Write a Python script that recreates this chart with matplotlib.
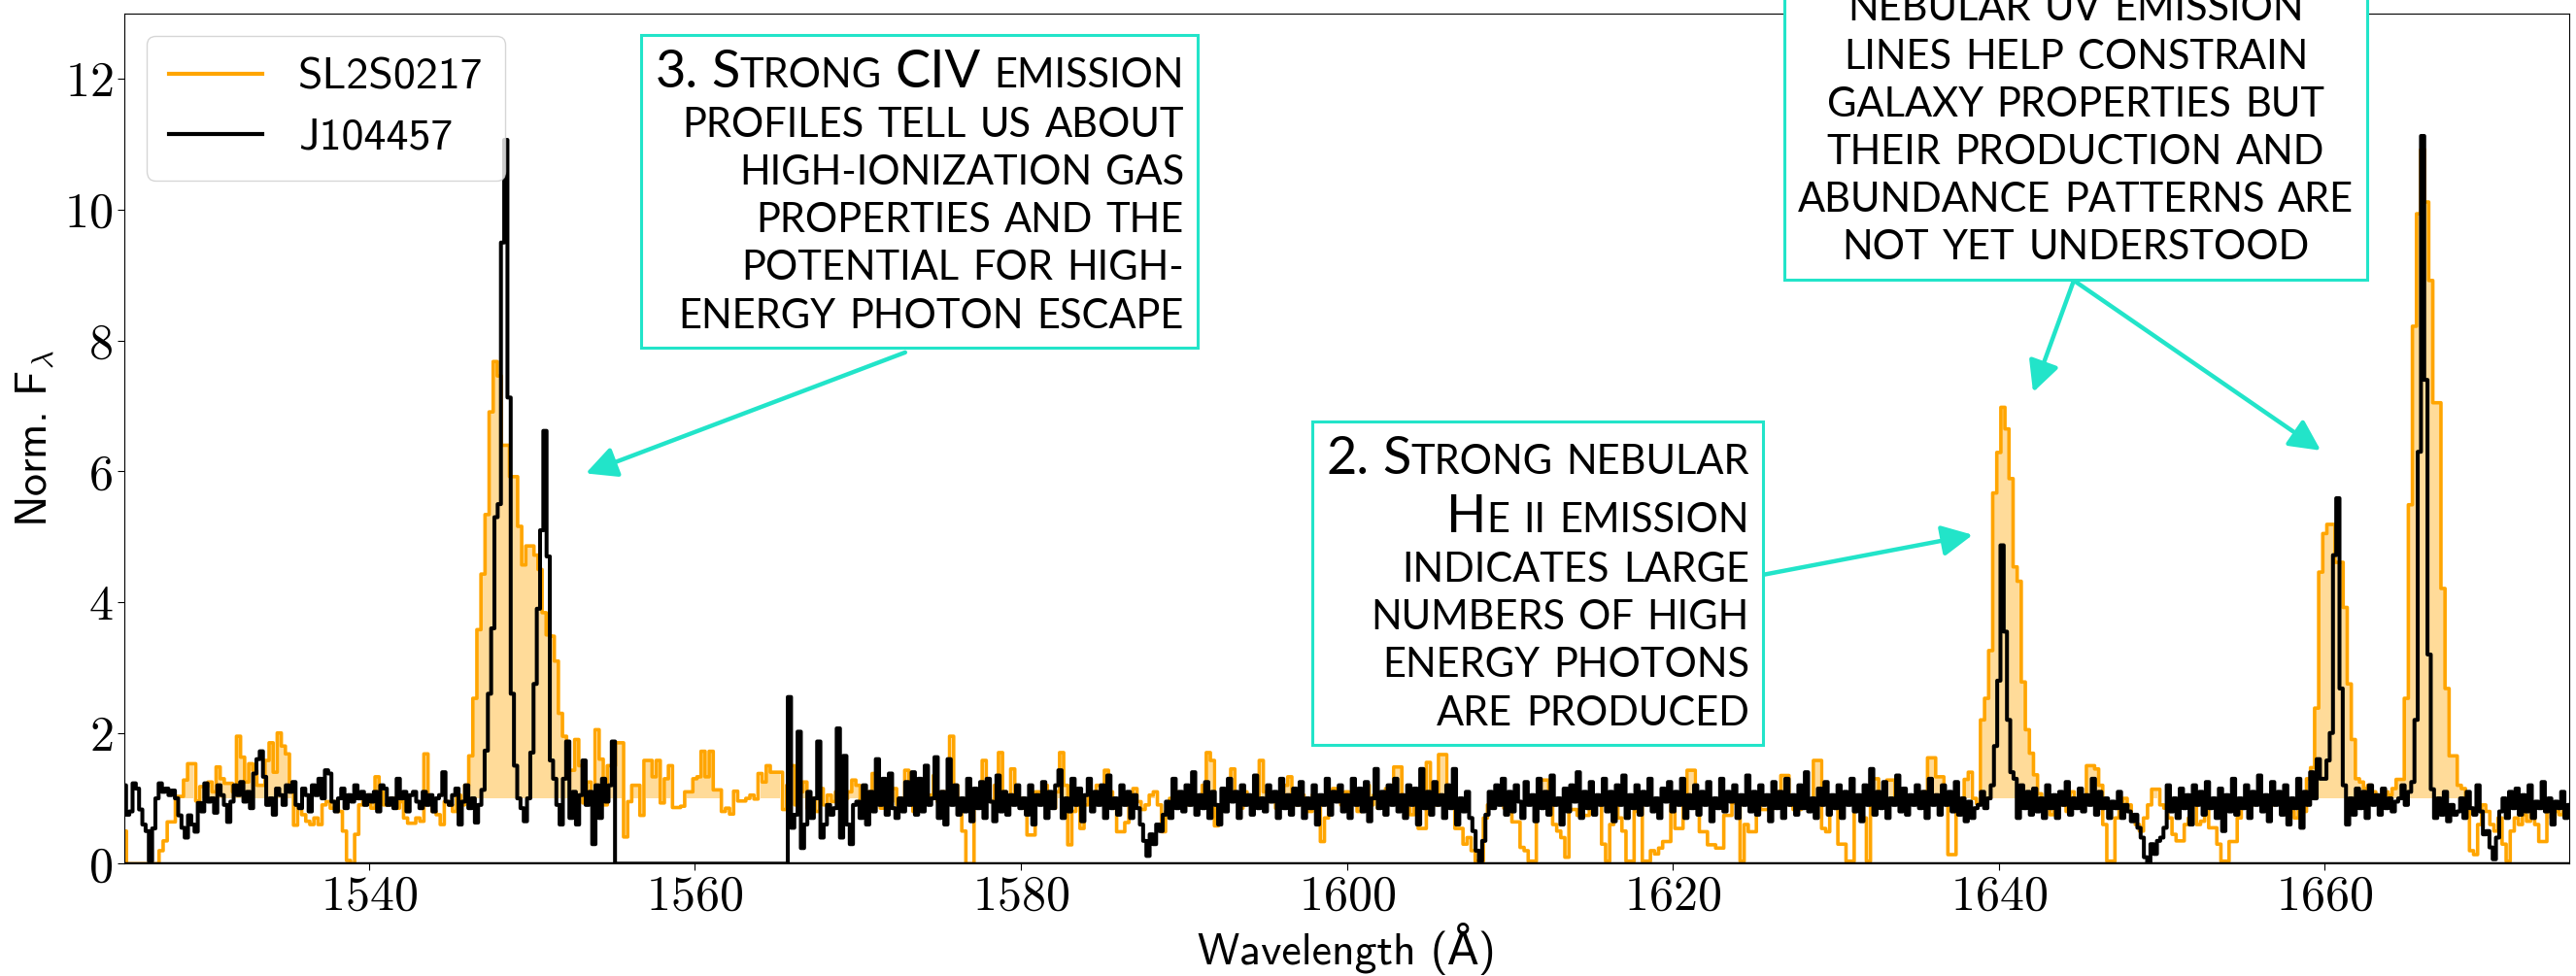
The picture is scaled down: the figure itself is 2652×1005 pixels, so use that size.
import numpy as np
import matplotlib.pyplot as plt
from matplotlib.offsetbox import TextArea, HPacker, VPacker, AnnotationBbox

plt.rcParams['mathtext.fontset'] = 'cm'
plt.rcParams['axes.formatter.use_mathtext'] = True

# SL2S0217 : normalised flux, 0.25 A bins from 1525 A
sl_start, sl_step = 1525.0, 0.25
sl_flux = [
    0.5, 0.0, 0.0, 0.0, 0.0, 0.0, 0.0, 0.0, 0.0, 0.2, 0.35, 0.64, 0.64, 1.03, 1.03, 1.28, 1.53, 1.53, 0.96, 1.18,
    1.18, 1.25, 1.1, 1.48, 1.3, 1.23, 1.23, 1.1, 1.95, 1.63, 1.25, 1.53, 1.43, 1.2, 1.2, 1.58, 1.85, 1.4, 2.0, 1.8,
    1.68, 1.1, 0.59, 0.9, 0.75, 0.65, 0.6, 0.7, 0.6, 0.9, 0.95, 0.85, 0.95, 0.8, 0.5, 0.05, 0.0, 0.45, 0.9, 1.0,
    1.05, 0.85, 1.33, 1.1, 0.9, 0.9, 1.0, 0.85, 0.95, 0.7, 0.62, 0.62, 0.7, 0.65, 1.68, 0.95, 0.8, 0.75, 0.6, 0.95,
    0.9, 0.8, 1.05, 0.9, 1.2, 1.65, 2.53, 3.58, 4.43, 5.34, 6.91, 7.68, 7.46, 6.4, 6.4, 5.92, 5.92, 5.16, 4.57, 4.86,
    4.86, 4.72, 4.5, 3.84, 3.5, 3.48, 3.1, 2.3, 1.95, 1.43, 1.43, 1.9, 1.5, 0.93, 1.25, 1.0, 2.05, 1.6, 0.9, 1.5,
    1.5, 1.85, 1.85, 0.41, 0.95, 1.2, 1.2, 0.74, 1.58, 1.58, 1.33, 1.58, 0.93, 1.3, 1.5, 0.86, 0.86, 0.88, 1.1, 1.1,
    1.3, 1.33, 1.72, 1.33, 1.72, 1.13, 1.13, 0.8, 0.85, 0.76, 1.11, 0.96, 0.96, 1.0, 1.05, 0.99, 1.38, 1.25, 1.5, 1.4,
    1.4, 1.4, 0.83, 1.2, 1.5, 0.9, 1.1, 1.25, 0.85, 1.0, 0.8, 1.15, 0.9, 1.05, 0.95, 1.1, 0.85, 1.0, 1.1, 1.28,
    1.2, 0.9, 0.95, 1.1, 1.38, 1.0, 0.85, 1.05, 0.95, 1.15, 0.9, 1.0, 1.43, 1.1, 0.8, 0.95, 1.1, 0.95, 1.05, 1.35,
    0.95, 1.1, 1.0, 1.95, 1.2, 0.85, 0.5, 0.0, 0.0, 0.9, 1.1, 1.58, 1.0, 0.95, 1.2, 1.7, 1.1, 0.9, 1.45, 1.05,
    1.0, 0.85, 0.44, 0.44, 1.1, 0.95, 1.2, 1.0, 0.85, 1.1, 1.7, 1.2, 0.29, 0.8, 1.05, 0.54, 0.9, 1.1, 0.95, 1.2,
    1.05, 1.43, 1.1, 0.9, 0.49, 0.49, 0.63, 1.0, 1.15, 0.95, 0.83, 0.9, 1.05, 1.1, 0.9, 0.49, 0.8, 1.0, 1.1, 0.95,
    1.05, 0.9, 1.15, 0.95, 1.0, 1.2, 1.7, 1.58, 0.58, 0.8, 1.0, 1.1, 1.45, 1.0, 0.85, 1.1, 0.95, 1.05, 0.9, 1.58,
    1.1, 0.95, 1.0, 0.85, 1.05, 1.2, 1.33, 1.0, 0.9, 1.05, 0.95, 0.8, 1.05, 0.9, 0.34, 0.7, 1.0, 1.15, 1.0, 0.9,
    1.1, 0.95, 1.05, 0.8, 1.0, 1.2, 0.9, 1.05, 0.85, 1.0, 1.15, 0.95, 1.48, 1.48, 1.05, 0.85, 0.75, 0.9, 0.54, 0.54,
    1.55, 1.0, 0.9, 1.67, 1.67, 1.0, 0.85, 0.54, 0.54, 0.3, 0.4, 0.2, 0.04, 0.04, 0.7, 0.9, 1.05, 1.18, 1.18, 0.85,
    0.9, 0.64, 0.64, 0.25, 0.2, 0.04, 0.04, 0.9, 1.28, 1.28, 0.9, 0.6, 0.5, 0.4, 0.1, 0.83, 0.83, 0.74, 0.74, 0.74,
    0.93, 0.93, 0.93, 0.3, 0.04, 0.6, 0.9, 0.7, 0.5, 0.04, 0.04, 0.8, 0.9, 0.04, 0.04, 0.2, 0.15, 0.24, 0.34, 0.34,
    0.9, 0.54, 0.54, 1.0, 1.43, 1.43, 0.95, 0.49, 0.49, 0.29, 0.29, 0.24, 0.24, 0.74, 0.74, 0.93, 0.93, 0.04, 0.6, 0.49,
    0.49, 0.9, 0.83, 0.83, 0.83, 1.0, 1.1, 1.35, 1.35, 0.9, 0.83, 0.83, 1.0, 0.9, 0.95, 1.58, 1.58, 0.54, 0.49, 0.85,
    0.9, 0.3, 0.3, 0.04, 0.04, 0.93, 0.93, 0.7, 0.04, 1.3, 1.3, 1.0, 0.9, 1.28, 1.28, 1.0, 0.9, 1.05, 0.95, 0.93,
    0.93, 1.0, 1.1, 1.62, 1.62, 1.33, 1.33, 1.0, 0.14, 0.14, 0.83, 0.83, 1.29, 1.4, 1.0, 0.92, 2.2, 2.53, 3.26, 5.67,
    6.29, 6.98, 6.65, 5.89, 4.54, 4.32, 2.78, 2.05, 1.69, 1.36, 1.07, 0.9, 1.0, 0.75, 0.85, 1.05, 0.9, 0.8, 1.1, 0.95,
    0.85, 1.0, 1.5, 1.5, 1.45, 1.2, 0.6, 0.04, 0.04, 0.7, 0.85, 1.0, 0.9, 0.75, 0.6, 0.5, 0.7, 0.9, 1.14, 1.14,
    0.9, 0.85, 0.7, 0.45, 0.35, 0.35, 0.6, 0.7, 0.9, 0.6, 0.65, 0.9, 0.55, 0.55, 0.3, 0.04, 0.04, 0.34, 0.34, 0.7,
    0.9, 0.95, 0.9, 1.0, 0.95, 0.85, 1.0, 0.9, 0.95, 1.0, 0.85, 0.75, 0.8, 0.7, 0.85, 0.8, 1.3, 1.47, 2.38, 4.46,
    5.05, 5.19, 5.19, 4.61, 4.61, 3.92, 2.75, 1.9, 1.3, 1.25, 1.15, 1.2, 1.1, 1.05, 1.0, 1.1, 1.05, 1.15, 1.29, 1.29,
    2.53, 5.49, 8.22, 9.94, 10.92, 10.12, 8.92, 7.05, 7.05, 4.21, 2.68, 1.65, 1.65, 1.2, 1.15, 0.9, 0.2, 0.14, 0.6, 0.9,
    0.8, 0.6, 0.5, 0.7, 0.3, 0.04, 0.5, 0.7, 0.6, 0.75, 0.65, 0.8, 0.6, 0.34, 0.34, 0.9, 0.7, 0.8, 0.75, 0.85,
    0.8,
]

# J104457 : normalised flux, 0.2 A bins from 1525 A (zeros across the detector gap)
j1_start, j1_step = 1525.0, 0.2
j1_flux = [
    1.2, 0.75, 0.8, 1.23, 1.15, 0.83, 0.6, 0.5, 0.04, 0.54, 1.0, 1.23, 1.1, 1.15, 1.05, 1.12, 1.0, 0.74, 0.55, 0.4, 0.74, 0.6, 0.49, 0.93, 0.8,
    1.23, 0.95, 1.0, 0.78, 1.2, 1.05, 0.9, 0.64, 0.95, 1.2, 1.05, 1.25, 0.95, 1.1, 0.85, 1.38, 1.6, 1.72, 1.33, 0.9, 1.0, 0.75, 1.15, 1.05, 0.9,
    1.2, 1.1, 1.25, 0.9, 0.85, 1.15, 1.05, 0.8, 1.2, 1.05, 1.3, 1.0, 1.43, 1.38, 0.95, 0.8, 1.0, 1.15, 0.85, 1.05, 0.95, 1.2, 1.0, 1.1, 0.9,
    1.05, 0.95, 1.1, 0.8, 1.2, 1.15, 0.9, 1.0, 0.85, 1.3, 1.0, 1.1, 0.8, 1.05, 1.1, 0.95, 0.85, 1.1, 0.9, 1.05, 0.8, 1.0, 1.05, 1.4, 0.95,
    0.9, 1.05, 1.15, 0.6, 0.95, 1.2, 0.85, 1.0, 0.63, 0.9, 1.13, 1.73, 2.6, 3.6, 5.3, 5.5, 9.5, 11.07, 7.13, 2.6, 1.5, 1.0, 0.85, 0.65, 1.0,
    1.7, 2.75, 3.9, 5.1, 6.62, 4.7, 1.58, 1.3, 0.9, 0.6, 1.3, 1.87, 0.7, 1.1, 0.6, 1.05, 1.58, 0.9, 1.1, 0.3, 1.2, 0.7, 1.3, 0.95, 1.2,
    1.87, 0, 0, 0, 0, 0, 0, 0, 0, 0, 0, 0, 0, 0, 0, 0, 0, 0, 0, 0, 0, 0, 0, 0, 0,
    0, 0, 0, 0, 0, 0, 0, 0, 0, 0, 0, 0, 0, 0, 0, 0, 0, 0, 0, 0, 0, 0, 0, 0, 0,
    0, 0, 0, 0, 2.55, 0.55, 0.75, 2.02, 0.24, 0.6, 1.1, 0.7, 1.0, 1.87, 0.4, 0.6, 0.9, 0.75, 0.85, 2.07, 0.4, 1.65, 0.6, 0.3, 0.9,
    0.95, 0.7, 1.2, 0.6, 1.1, 0.8, 1.6, 0.9, 1.3, 0.75, 1.38, 0.85, 0.7, 1.0, 0.8, 1.25, 0.9, 1.4, 0.75, 1.3, 0.8, 1.5, 0.9, 1.0, 1.63,
    0.7, 1.1, 0.6, 1.6, 0.9, 1.2, 0.75, 1.0, 0.8, 1.3, 0.65, 1.15, 0.85, 1.25, 0.7, 1.3, 0.95, 0.65, 1.35, 0.8, 1.1, 0.75, 1.05, 0.9, 1.2,
    0.85, 1.0, 0.75, 1.2, 0.6, 1.05, 0.9, 1.25, 0.7, 1.1, 0.85, 1.2, 1.43, 0.7, 1.0, 0.8, 1.3, 0.9, 1.15, 0.65, 1.05, 1.3, 0.8, 1.1, 0.9,
    1.2, 0.7, 1.35, 0.85, 1.0, 0.75, 1.2, 0.9, 1.1, 0.7, 1.05, 0.85, 0.6, 0.35, 0.12, 0.45, 0.3, 0.6, 0.5, 0.75, 0.95, 0.7, 1.3, 0.85, 1.1,
    0.8, 1.2, 0.9, 1.4, 0.75, 1.05, 0.85, 1.25, 0.7, 1.1, 0.9, 0.6, 1.15, 0.8, 1.3, 0.95, 1.1, 0.7, 1.2, 0.9, 1.05, 0.75, 1.35, 0.85, 1.0,
    0.8, 1.2, 0.95, 1.1, 0.7, 1.3, 0.85, 1.05, 0.75, 1.15, 0.9, 1.25, 0.7, 1.0, 0.85, 1.2, 0.6, 1.05, 0.9, 1.3, 0.75, 1.1, 0.95, 1.2, 0.8,
    1.05, 0.7, 1.3, 0.9, 1.15, 0.8, 1.25, 0.65, 1.0, 1.45, 0.85, 1.1, 0.75, 1.2, 0.9, 1.3, 0.8, 1.05, 0.7, 1.2, 0.9, 1.15, 0.6, 1.45, 0.85,
    1.1, 0.75, 1.25, 0.9, 1.05, 0.7, 1.2, 0.85, 1.45, 0.6, 1.0, 0.8, 1.1, 0.7, 0.5, 0.2, 0.04, 0.35, 0.75, 1.1, 0.85, 1.2, 0.9, 1.3, 0.75,
    1.1, 0.8, 1.2, 0.95, 0.7, 1.25, 0.9, 1.05, 0.65, 1.3, 0.85, 1.1, 0.75, 1.35, 0.9, 1.0, 0.6, 1.15, 0.8, 1.2, 0.95, 1.4, 0.7, 1.1, 0.85,
    1.25, 0.75, 1.05, 0.9, 1.3, 0.8, 1.1, 0.65, 1.2, 0.9, 1.35, 0.7, 1.05, 0.85, 1.2, 0.75, 1.1, 0.9, 1.3, 0.8, 1.0, 0.7, 1.15, 0.95, 1.25,
    0.8, 1.1, 0.9, 1.3, 0.7, 1.05, 0.85, 1.2, 0.75, 1.1, 0.9, 1.25, 0.65, 1.0, 0.85, 1.3, 0.8, 1.1, 0.95, 1.2, 0.7, 1.05, 0.9, 1.35, 0.8,
    1.1, 0.75, 1.2, 0.9, 1.05, 0.65, 1.25, 0.85, 1.1, 0.7, 1.3, 0.9, 1.05, 0.75, 1.2, 0.85, 1.4, 0.8, 1.0, 0.7, 1.15, 0.9, 1.25, 0.75, 1.05,
    0.85, 1.2, 0.7, 1.1, 0.9, 1.3, 0.8, 1.05, 0.65, 1.2, 0.9, 1.45, 0.75, 1.1, 0.85, 1.25, 0.7, 1.0, 0.9, 1.35, 0.8, 1.15, 0.75, 1.05, 0.9,
    1.2, 0.85, 1.1, 0.7, 1.3, 0.9, 1.05, 0.75, 1.2, 0.9, 1.1, 0.8, 1.25, 0.75, 1.0, 0.65, 0.95, 0.7, 0.85, 0.9, 1.1, 0.85, 1.0, 1.2, 1.8,
    2.8, 4.87, 3.55, 2.2, 1.4, 1.3, 0.7, 1.2, 0.85, 1.1, 0.75, 1.15, 0.8, 1.0, 0.7, 1.2, 0.85, 1.05, 0.7, 1.1, 0.9, 1.25, 0.75, 1.0, 0.85,
    1.15, 0.8, 1.05, 0.9, 1.3, 0.75, 1.1, 0.85, 1.0, 0.7, 0.95, 0.85, 1.1, 0.7, 0.9, 0.8, 0.65, 0.75, 0.55, 0.4, 0.1, 0.02, 0.3, 0.15, 0.35,
    0.4, 0.55, 1.2, 0.8, 1.0, 0.7, 1.15, 0.85, 1.05, 0.6, 1.2, 0.9, 1.1, 0.75, 1.25, 0.85, 1.0, 0.7, 1.15, 0.5, 1.05, 0.8, 1.3, 0.75, 1.0,
    0.85, 1.2, 0.7, 1.1, 0.9, 1.35, 0.8, 1.05, 0.65, 1.25, 0.9, 1.1, 0.75, 1.2, 0.6, 1.0, 0.85, 1.3, 0.55, 1.1, 0.9, 1.4, 1.0, 1.6, 1.3,
    1.3, 1.58, 2.0, 4.72, 5.59, 2.68, 1.2, 0.6, 1.0, 0.75, 1.15, 0.85, 1.1, 0.7, 1.2, 0.9, 1.05, 0.75, 1.15, 0.85, 1.0, 0.8, 0.95, 1.0, 1.2,
    0.9, 1.1, 1.25, 2.2, 6.3, 11.13, 7.4, 3.2, 1.14, 0.7, 1.0, 0.75, 1.1, 0.65, 0.9, 0.75, 0.8, 1.0, 0.7, 1.1, 0.85, 0.75, 1.2, 0.8, 0.45,
    0.5, 0.25, 0.07, 0.4, 0.8, 1.0, 0.7, 1.1, 0.85, 1.15, 0.75, 1.05, 0.8, 1.2, 0.7, 0.95, 0.85, 1.25, 0.8, 1.0, 0.6, 0.95, 0.85, 1.1, 0.7,
    0.9,
]

labels = ['SL2S0217', 'J104457']
xticks = [1540, 1560, 1580, 1600, 1620, 1640, 1660]
yticks = [0, 2, 4, 6, 8, 10, 12]

wave_sl = sl_start + sl_step * np.arange(len(sl_flux))
wave_j1 = j1_start + j1_step * np.arange(len(j1_flux))
fl_sl = np.array(sl_flux)
fl_j1 = np.array(j1_flux)

TEAL = '#22e4c9'
SMALL = dict(family='Lato', size=30, color='k')
BIG = dict(family='Lato', size=39, color='k')

fig = plt.figure(figsize=(26.52, 10.05), dpi=100)
ax = fig.add_axes([0.0483, 0.115, 0.9491, 0.871])

ax.fill_between(wave_sl, 1, fl_sl, where=fl_sl > 1, step='mid',
                color='orange', alpha=0.4, lw=0)
ax.plot(wave_sl, fl_sl, drawstyle='steps-mid', color='orange', lw=2.6, label=labels[0])
ax.plot(wave_j1, fl_j1, drawstyle='steps-mid', color='k', lw=2.9, label=labels[1])
ax.axhline(0, color='k', lw=2.5)

ax.set_xlim(1525, 1675)
ax.set_ylim(0, 13)
ax.set_xticks(xticks)
ax.set_yticks(yticks)
ax.tick_params(labelsize=36, labelfontfamily='cmr10', length=5)
ax.set_xlabel('Wavelength (Å)', family=['cmss10', 'DejaVu Sans'], fontsize=33, labelpad=2)
ax.set_ylabel(r'Norm. F$_\lambda$', family='cmss10', fontsize=33, labelpad=6)

leg = ax.legend(loc='upper left', prop=dict(family='cmss10', size=33),
                handlelength=2.1, labelspacing=0.45, borderpad=0.5)
for h in leg.get_lines():
    h.set_linewidth(3)


def caps(text):
    # ^...^ marks full size capitals, everything else is set in small caps
    words = []
    for w in text.split():
        pieces = [TextArea(p.upper(), textprops=BIG if i % 2 else SMALL)
                  for i, p in enumerate(w.split('^')) if p]
        words.append(HPacker(children=pieces, align='baseline', pad=0, sep=0))
    return HPacker(children=words, align='baseline', pad=0, sep=10)


def note(lines, xy, align, box_alignment):
    col = VPacker(children=[caps(s) for s in lines], align=align, pad=0, sep=8)
    ab = AnnotationBbox(col, xy, xycoords='figure fraction', box_alignment=box_alignment,
                        frameon=True, pad=1.0, fontsize=10,
                        bboxprops=dict(edgecolor=TEAL, lw=2.2, facecolor='white'))
    ab.set_zorder(5)
    fig.add_artist(ab)


def arrow(start, tip):
    ax.annotate('', xy=tip, xytext=start, xycoords='data', textcoords='data',
                annotation_clip=False, zorder=6,
                arrowprops=dict(arrowstyle='-|>', color=TEAL, lw=3.2,
                                mutation_scale=48, shrinkA=0, shrinkB=0))


note(['^3.^ ^S^trong ^CIV^ emission',
      'profiles tell us about',
      'high-ionization gas',
      'properties and the',
      'potential for high-',
      'energy photon escape'],
     (0.4597, 0.9502), 'right', (1, 1))

note(['^2.^ ^S^trong nebular',
      '^H^e ii emission',
      'indicates large',
      'numbers of high',
      'energy photons',
      'are produced'],
     (0.6791, 0.5542), 'right', (1, 1))

note(['nebular UV emission',
      'lines help constrain',
      'galaxy properties but',
      'their production and',
      'abundance patterns are',
      'not yet understood'],
     (0.8058, 0.7274), 'center', (0.5, 0))

arrow((1572.9, 7.82), (1553.3, 5.97))
arrow((1625.55, 4.42), (1638.4, 5.03))
arrow((1644.6, 8.92), (1642.1, 7.21))
arrow((1644.6, 8.92), (1659.75, 6.32))

fig.savefig('out.png', dpi=100)
